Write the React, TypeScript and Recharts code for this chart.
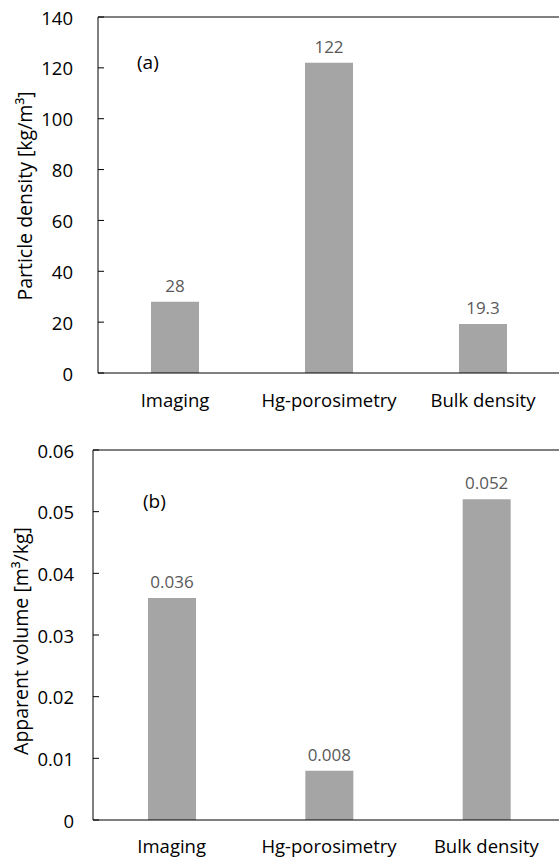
import React from 'react';
import { Bar, BarChart, LabelList, ReferenceLine, XAxis, YAxis } from 'recharts';

const categories = ['Imaging', 'Hg-porosimetry', 'Bulk density'];
const particleDensity = [28, 122, 19.3];
const apparentVolume = [0.036, 0.008, 0.052];
const densityTicks = [0, 20, 40, 60, 80, 100, 120, 140];
const volumeTicks = [0, 0.01, 0.02, 0.03, 0.04, 0.05, 0.06];

const densityData = categories.map((name, i) => ({ name, value: particleDensity[i] }));
const volumeData = categories.map((name, i) => ({ name, value: apparentVolume[i] }));

const FONT = '"Open Sans", sans-serif';
const BAR_FILL = '#a5a5a5';

const makeYTick = (gap: number) => (props: any) => {
  const { x, y, payload } = props;
  return (
    <g>
      <line x1={x} x2={x + 6} y1={y} y2={y} stroke="#000" strokeWidth={1} />
      <text x={x - gap} y={y} textAnchor="end" dominantBaseline="central" fontSize={18.5} fontFamily={FONT} fill="#000">
        {String(payload.value)}
      </text>
    </g>
  );
};

const makeYTitle = (title: string, dx: number, dy: number) => (props: any) => {
  const vb = props.viewBox || {};
  const cx = vb.x + dx;
  const cy = vb.y + vb.height / 2 + dy;
  return (
    <text x={cx} y={cy} transform={`rotate(-90 ${cx} ${cy})`} textAnchor="middle" dominantBaseline="central" fontSize={19.5} fontFamily={FONT} fill="#000">
      {title}
    </text>
  );
};

const PanelTag: React.FC<{ text: string; left: number; top: number }> = ({ text, left, top }) => (
  <div style={{ position: 'absolute', left, top, fontFamily: FONT, fontSize: 19, color: '#000', lineHeight: '22px' }}>{text}</div>
);

const App: React.FC = () => {
  return (
    <div style={{ position: 'absolute', left: 0, top: 0, width: 559, height: 864, overflow: 'hidden', background: '#fff' }}>
      <div style={{ position: 'absolute', left: 0, top: 0 }}>
        <BarChart width={570} height={430} data={densityData} margin={{ top: 17, right: 10, left: 0, bottom: 7 }}>
          <XAxis
            dataKey="name"
            height={50}
            tickLine={false}
            tickMargin={15}
            axisLine={{ stroke: '#000' }}
            tick={{ fontSize: 18.5, fontFamily: FONT, fill: '#000' }}
            interval={0}
          />
          <YAxis
            width={98}
            domain={[0, 140]}
            ticks={densityTicks}
            tickSize={0}
            tickMargin={0}
            tickLine={false}
            axisLine={{ stroke: '#000' }}
            tick={makeYTick(25)}
            label={{ content: makeYTitle('Particle density [kg/m³]', 24, 1) }}
          />
          <ReferenceLine y={140} stroke="#000" />
          <Bar dataKey="value" fill={BAR_FILL} barSize={48} isAnimationActive={false}>
            <LabelList dataKey="value" position="top" offset={10} fontSize={17} fontFamily={FONT} fill="#595959" />
          </Bar>
        </BarChart>
        <PanelTag text="(a)" left={137} top={51} />
      </div>
      <div style={{ position: 'absolute', left: 0, top: 430 }}>
        <BarChart width={570} height={434} data={volumeData} margin={{ top: 20, right: 5, left: 0, bottom: 4 }}>
          <XAxis
            dataKey="name"
            height={40}
            tickLine={false}
            tickMargin={14}
            axisLine={{ stroke: '#000' }}
            tick={{ fontSize: 18.5, fontFamily: FONT, fill: '#000' }}
            interval={0}
          />
          <YAxis
            width={93}
            domain={[0, 0.06]}
            ticks={volumeTicks}
            tickSize={0}
            tickMargin={0}
            tickLine={false}
            axisLine={{ stroke: '#000' }}
            tick={makeYTick(19)}
            label={{ content: makeYTitle('Apparent volume [m³/kg]', 20, 6) }}
          />
          <ReferenceLine y={0.06} stroke="#000" />
          <Bar dataKey="value" fill={BAR_FILL} barSize={48} isAnimationActive={false}>
            <LabelList dataKey="value" position="top" offset={10} fontSize={17} fontFamily={FONT} fill="#595959" />
          </Bar>
        </BarChart>
        <PanelTag text="(b)" left={143} top={60} />
      </div>
    </div>
  );
};

export default App;
